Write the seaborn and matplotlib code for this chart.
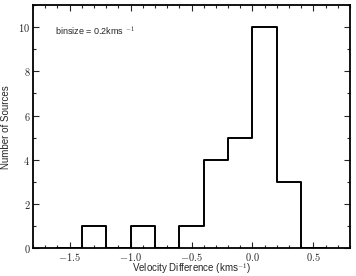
import matplotlib
matplotlib.use("Agg")
import matplotlib.pyplot as plt
import seaborn as sns
import numpy as np
from matplotlib.ticker import MultipleLocator, FuncFormatter

bin_edges = [-1.6, -1.4, -1.2, -1.0, -0.8, -0.6, -0.4, -0.2, 0.0, 0.2, 0.4, 0.6]
counts = [0, 1, 0, 1, 0, 1, 4, 5, 10, 3, 0]
centers = [(a + b) / 2 for a, b in zip(bin_edges[:-1], bin_edges[1:])]

sns.set_style("ticks")
plt.rcParams['font.family'] = ['Liberation Sans', 'DejaVu Sans']
plt.rcParams['mathtext.fontset'] = 'cm'

fig = plt.figure(figsize=(3.56, 2.76), dpi=100)
ax = fig.add_axes([0.093, 0.1, 0.89, 0.882])
sns.histplot(x=centers, weights=counts, bins=bin_edges, element="step", fill=False,
             color="black", linewidth=1.4, ax=ax)

ax.set_xlim(-1.8, 0.8)
ax.set_ylim(0, 11)
ax.xaxis.set_major_locator(MultipleLocator(0.5))
ax.xaxis.set_minor_locator(MultipleLocator(0.1))
ax.yaxis.set_major_locator(MultipleLocator(2))
ax.yaxis.set_minor_locator(MultipleLocator(1))
ax.xaxis.set_major_formatter(FuncFormatter(lambda v, p: r"$%.1f$" % v))
ax.yaxis.set_major_formatter(FuncFormatter(lambda v, p: r"$%d$" % v))
ax.tick_params(which="both", direction="in", top=True, right=True, labelsize=7.5, width=0.8, pad=2)
ax.tick_params(which="major", length=4)
ax.tick_params(which="minor", length=2)
for s in ax.spines.values():
    s.set_linewidth(1.3)
    s.set_color("black")

ax.set_xlabel(r"Velocity Difference (kms$^{-1}$)", fontsize=7, labelpad=-1)
ax.set_ylabel("Number of Sources", fontsize=7, labelpad=5)
ax.text(-1.62, 9.8, r"binsize = 0.2kms $^{-1}$", fontsize=6.5, va="center")

fig.savefig("out.png", dpi=100)
